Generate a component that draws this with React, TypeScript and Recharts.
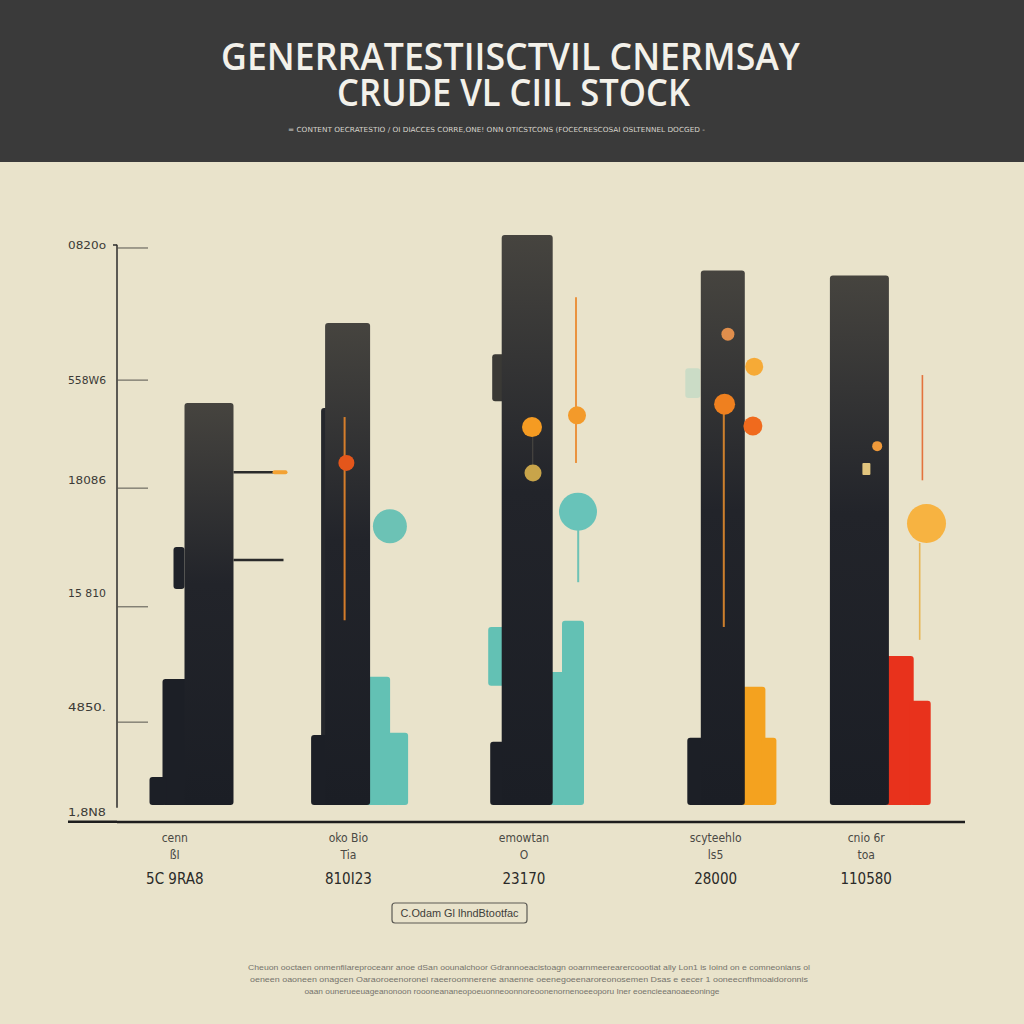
import React from 'react';
import { ComposedChart, Bar, XAxis, YAxis, ReferenceDot, ReferenceLine } from 'recharts';

// ---- data ----
const categories = ['cenn', 'oko Bio', 'emowtan', 'scyteehlo', 'cnio 6r'];
const subLabels = ['ßI', 'Tia', 'O', 'ls5', 'toa'];
const totals = ['5C 9RA8', '810I23', '23170', '28000', '110580'];

const yTickValues = [-1.2, 14.8, 35.4, 56.6, 75.9, 99.5];
const yTickLabels = ['1,8N8', '4850.', '15 810', '18086', '558W6', '0820o'];

// main stock columns and their dark side steps
const mainStock = [71.8, 86.1, 101.8, 95.5, 94.6];
const shoulder = [[38.6, 46.1], [0, 70.9], [72.1, 80.5], null, null];
const baseStep = [22.5, 12.5, 11.3, 12.0, null];
const footStep = [5.0, null, null, null, null];
const haze = [null, null, null, [72.7, 78.0], null];

// coloured accent columns
const accentHigh = [null, 22.9, 32.9, 21.1, 26.6];
const accentLow = [null, 12.9, 23.75, 12.0, 18.6];
const accentFloat = [null, null, [21.3, 31.8], null, null];

// gauge lines on first column
const gaugeUpper = [[59.2, 59.7], null, null, null, null];
const gaugeLower = [[43.5, 44.0], null, null, null, null];

// thin stems
const stemA = [null, [33.0, 69.3], [61.1, 90.7], [31.8, 71.6], [58.0, 76.8]];
const stemB = [null, null, [39.8, 49.1], null, [29.5, 46.8]];
const stemC = [null, null, [59.3, 67.5], null, null];

// markers
const dotCat = [1, 1, 2, 2, 2, 2, 3, 3, 3, 3, 4, 4, 4];
const dotValue = [61.1, 49.8, 67.5, 59.3, 69.6, 52.4, 84.1, 78.3, 71.6, 67.7, 64.1, 60.0, 50.3];

const seriesValues: Record<string, any[]> = {
  haze, accentFloat, accentHigh, accentLow, shoulder, baseStep, footStep, mainStock,
  gaugeUpper, gaugeLower, stemA, stemB, stemC,
};

const rows = categories.map((cat, i) => {
  const row: any = { cat };
  Object.keys(seriesValues).forEach((k) => { row[k] = seriesValues[k][i]; });
  return row;
});

// ---- styles ----
const PAPER = '#e9e3cb';
const DARK = '#1c1f26';
const TEAL = '#63c1b4';
const AMBER = '#f4a21f';
const RED = '#e8321c';
const NUDGE = [7, -24, -14, 12, -21];
const LABEL_NUDGE = [-27, -23, -17, 5, -14];
const Y_LABEL_LIFT = [0, -15, -14, -8, 0, -3];

type Style = { key: string; dx: number[]; w: number[]; fill: string[]; kind?: 'rect' | 'gauge' | 'stem'; opacity?: number };

const SERIES: Style[] = [
  { key: 'haze', dx: [0, 0, 0, -30, 0], w: [0, 0, 0, 15, 0], fill: ['', '', '', '#c6dbc6', ''], opacity: 0.85 },
  { key: 'accentFloat', dx: [0, 0, -30, 0, 0], w: [0, 0, 18, 0, 0], fill: ['', '', TEAL, '', ''] },
  { key: 'accentHigh', dx: [0, 30.5, 45.8, 30.6, 40.3], w: [0, 24, 22, 24, 28], fill: ['', TEAL, TEAL, AMBER, RED] },
  { key: 'accentLow', dx: [0, 49.5, 30.3, 46.1, 60.8], w: [0, 22, 17, 15, 21], fill: ['', TEAL, TEAL, AMBER, RED] },
  { key: 'shoulder', dx: [-30, -22, -28, 0, 0], w: [11, 9, 14, 0, 0], fill: ['#1f2229', '#25272c', '#3a3935', '', ''] },
  { key: 'baseStep', dx: [-32.5, -27, -28, -26, 0], w: [28, 19, 18, 19, 0], fill: [DARK, DARK, DARK, DARK, ''] },
  { key: 'footStep', dx: [-51, 0, 0, 0, 0], w: [17, 0, 0, 0, 0], fill: [DARK, '', '', '', ''] },
  { key: 'mainStock', dx: [0, 0, 0, 0, 0], w: [49, 45, 51, 44, 59], fill: Array(5).fill('url(#stockGrad)') },
  { key: 'gaugeUpper', dx: [49.5, 0, 0, 0, 0], w: [50, 0, 0, 0, 0], fill: ['#2a2a2a', '', '', '', ''], kind: 'gauge' },
  { key: 'gaugeLower', dx: [49.5, 0, 0, 0, 0], w: [50, 0, 0, 0, 0], fill: ['#2a2a2a', '', '', '', ''], kind: 'gauge' },
  { key: 'stemA', dx: [0, -3, 48.8, 1, 63], w: [0, 2, 2, 2, 1.6], fill: ['', '#e8862a', '#ea8a30', '#e08a2c', '#e2662e'], kind: 'stem' },
  { key: 'stemB', dx: [0, 0, 51, 0, 60.3], w: [0, 0, 2, 0, 1.6], fill: ['', '', '#5fbfb2', '', '#e7b04a'], kind: 'stem' },
  { key: 'stemC', dx: [0, 0, 5.5, 0, 0], w: [0, 0, 1.2, 0, 0], fill: ['', '', '#4a4842', '', ''], kind: 'stem' },
];

const DOT_STYLE = [
  { dx: -1, r: 8, fill: '#e4561b' },
  { dx: 42.5, r: 17, fill: '#6cc2b5' },
  { dx: 5, r: 10, fill: '#f59b22' },
  { dx: 6, r: 8.5, fill: '#c8a44a' },
  { dx: 50, r: 9, fill: '#f39a2a' },
  { dx: 51, r: 19, fill: '#68c3b9' },
  { dx: 5.3, r: 6.5, fill: '#e08e4c' },
  { dx: 31.6, r: 9, fill: '#f6aa36' },
  { dx: 2, r: 10.5, fill: '#ef801f' },
  { dx: 30.3, r: 9.5, fill: '#f06a1d' },
  { dx: 18, r: 5, fill: '#f09a3a' },
  { dx: 7.2, r: 6, fill: '#e2c57e', square: true },
  { dx: 67.3, r: 19.5, fill: '#f7b341' },
];

const makeShape = (s: Style) => (props: any) => {
  const { x, y, width, height, payload } = props;
  const i = categories.indexOf(payload?.cat);
  if (i < 0 || payload[s.key] == null || !isFinite(y) || !isFinite(height)) return <g />;
  const cx = x + width / 2 + NUDGE[i] + s.dx[i];
  const w = s.w[i];
  const top = height < 0 ? y + height : y;
  const h = Math.abs(height);
  if (s.kind === 'gauge') {
    const ly = top + h / 2;
    return (
      <g>
        <line x1={cx - w / 2} x2={cx + w / 2} y1={ly} y2={ly} stroke={s.fill[i]} strokeWidth={2.5} />
        {s.key === 'gaugeUpper' && (
          <line x1={cx + w / 2 - 9} x2={cx + w / 2 + 2} y1={ly} y2={ly} stroke="#f3a233" strokeWidth={4} strokeLinecap="round" />
        )}
      </g>
    );
  }
  if (s.kind === 'stem') {
    return <rect x={cx - w / 2} y={top} width={w} height={h} fill={s.fill[i]} opacity={0.9} />;
  }
  return <rect x={cx - w / 2} y={top} width={w} height={h} rx={3} fill={s.fill[i]} opacity={s.opacity ?? 1} />;
};

const YTick = (props: any) => {
  const { x, y, payload, index } = props;
  let i = yTickValues.indexOf(payload?.value);
  if (i < 0) i = index;
  return (
    <g>
      <text x={x - 49} y={y + Y_LABEL_LIFT[i]} dy="0.35em" fontSize={11} fill="#3b3a36"
        fontFamily="'DejaVu Sans Condensed', 'Liberation Sans', sans-serif"
        textLength={38} lengthAdjust="spacingAndGlyphs">{yTickLabels[i]}</text>
      {i > 0 && <line x1={x} x2={x + 31} y1={y} y2={y} stroke="#55534d" strokeWidth={1} />}
      {i === yTickValues.length - 1 && <line x1={x - 4} x2={x} y1={y - 3} y2={y - 3} stroke="#2b2b2b" strokeWidth={1.5} />}
      {i === 0 && <line x1={x - 49} x2={x} y1={y + 10} y2={y + 10} stroke="#1e1e1e" strokeWidth={2.5} />}
    </g>
  );
};

const XTick = (props: any) => {
  const { x, y, payload } = props;
  const i = categories.indexOf(payload?.value);
  if (i < 0) return <g />;
  const cx = x + LABEL_NUDGE[i];
  const font = "'DejaVu Sans Condensed', 'Liberation Sans', sans-serif";
  return (
    <g>
      <text x={cx} y={y + 20} textAnchor="middle" fontSize={12} fill="#4a4944" fontFamily={font}>{categories[i]}</text>
      <text x={cx} y={y + 37} textAnchor="middle" fontSize={12} fill="#4a4944" fontFamily={font}>{subLabels[i]}</text>
      <text x={cx} y={y + 62} textAnchor="middle" fontSize={15} fill="#2a2a28" fontFamily={font}>{totals[i]}</text>
    </g>
  );
};

const Header = () => (
  <svg width={1024} height={162} style={{ display: 'block' }}>
    <rect width={1024} height={162} fill="#3a3a3a" />
    <text x={510.5} y={70} textAnchor="middle" fontSize={38} fontWeight={600} fill="#f3f1ea"
      fontFamily="'Open Sans', sans-serif" textLength={579} lengthAdjust="spacingAndGlyphs">
      GENERRATESTIISCTVIL   CNERMSAY
    </text>
    <text x={513.5} y={106} textAnchor="middle" fontSize={38} fontWeight={600} fill="#f3f1ea"
      fontFamily="'Open Sans', sans-serif" textLength={353} lengthAdjust="spacingAndGlyphs">
      CRUDE VL CIIL STOCK
    </text>
    <text x={496.5} y={132} textAnchor="middle" fontSize={7} fill="#d6d4cc"
      fontFamily="'DejaVu Sans', sans-serif" textLength={417} lengthAdjust="spacingAndGlyphs">
      = CONTENT OECRATESTIO / OI DIACCES CORRE,ONE! ONN OTICSTCONS (FOCECRESCOSAI OSLTENNEL DOCGED -
    </text>
  </svg>
);

const Footer = () => (
  <svg width={1024} height={122} style={{ display: 'block' }}>
    <rect x={392} y={9} width={135} height={20} rx={3} fill="none" stroke="#5d5b55" strokeWidth={1.2} />
    <text x={459.5} y={23} textAnchor="middle" fontSize={11} fill="#3f3e3a"
      fontFamily="'Liberation Sans', sans-serif" textLength={118} lengthAdjust="spacingAndGlyphs">
      C.Odam Gl lhndBtootfac
    </text>
    <text x={529} y={76} textAnchor="middle" fontSize={8} fill="#75736b" fontFamily="'Liberation Sans', sans-serif"
      textLength={562} lengthAdjust="spacingAndGlyphs">
      Cheuon ooctaen onmenfilareproceanr anoe dSan oounalchoor Gdrannoeacistoagn ooarnmeerearercoootiat ally Lon1 is Ioind on e comneonians ol
    </text>
    <text x={529} y={88} textAnchor="middle" fontSize={8} fill="#75736b" fontFamily="'Liberation Sans', sans-serif"
      textLength={558} lengthAdjust="spacingAndGlyphs">
      oeneen oaoneen onagcen Oaraoroeenoronei raeeroomnerene anaenne oeenegoeenaroreonosemen Dsas e eecer 1 ooneecnfhmoaidoronnis
    </text>
    <text x={512} y={100} textAnchor="middle" fontSize={8} fill="#75736b" fontFamily="'Liberation Sans', sans-serif"
      textLength={415} lengthAdjust="spacingAndGlyphs">
      oaan ounerueeuageanonoon roooneananeopoeuonneoonnoreoonenornenoeeoporu Iner eoencieeanoaeeoninge
    </text>
  </svg>
);

export default function App() {
  return (
    <div style={{ position: 'absolute', left: 0, top: 0, width: 1024, height: 1024, background: PAPER, overflow: 'hidden' }}>
      <svg width={0} height={0} style={{ position: 'absolute' }}>
        <defs>
          <linearGradient id="stockGrad" x1="0" y1="0" x2="0" y2="1">
            <stop offset="0%" stopColor="#46443f" />
            <stop offset="45%" stopColor="#22242a" />
            <stop offset="100%" stopColor="#1b1e25" />
          </linearGradient>
        </defs>
      </svg>
      <Header />
      <div style={{ position: 'absolute', left: 0, top: 162 }}>
        <ComposedChart width={1024} height={740} data={rows} margin={{ top: 58, right: 59, left: 0, bottom: 0 }}>
          <XAxis xAxisId="x0" dataKey="cat" type="category" height={80} tick={<XTick />}
            tickLine={false} tickSize={0} tickMargin={0} axisLine={{ stroke: '#1e1e1e', strokeWidth: 2.5 }} />
          {SERIES.map((s) => (
            <XAxis key={s.key} xAxisId={s.key} dataKey="cat" type="category" orientation="top" height={0} hide />
          ))}
          <YAxis type="number" domain={[-3.04, 104.5]} ticks={yTickValues} interval={0} width={117}
            axisLine={false} tickLine={false} tickSize={0} tickMargin={0} tick={<YTick />} />
          <ReferenceLine xAxisId="x0" position="start" ifOverflow="visible"
            segment={[{ x: categories[0], y: -0.5 }, { x: categories[0], y: 100.1 }]}
            stroke="#2b2b2b" strokeWidth={1.5} />
          {SERIES.map((s) => (
            <Bar key={s.key} xAxisId={s.key} dataKey={s.key} barSize={10}
              shape={makeShape(s)} isAnimationActive={false} />
          ))}
          {dotValue.map((v, i) => {
            const st = DOT_STYLE[i];
            const c = dotCat[i];
            return (
              <ReferenceDot key={i} xAxisId="x0" x={categories[c]} y={v} r={st.r} ifOverflow="visible"
                shape={(p: any) => {
                  const cx = p.cx + NUDGE[c] + st.dx;
                  return st.square
                    ? <rect x={cx - 4} y={p.cy - 6} width={8} height={12} rx={1} fill={st.fill} />
                    : <circle cx={cx} cy={p.cy} r={st.r} fill={st.fill} />;
                }} />
            );
          })}
        </ComposedChart>
      </div>
      <div style={{ position: 'absolute', left: 0, top: 894 }}>
        <Footer />
      </div>
    </div>
  );
}
